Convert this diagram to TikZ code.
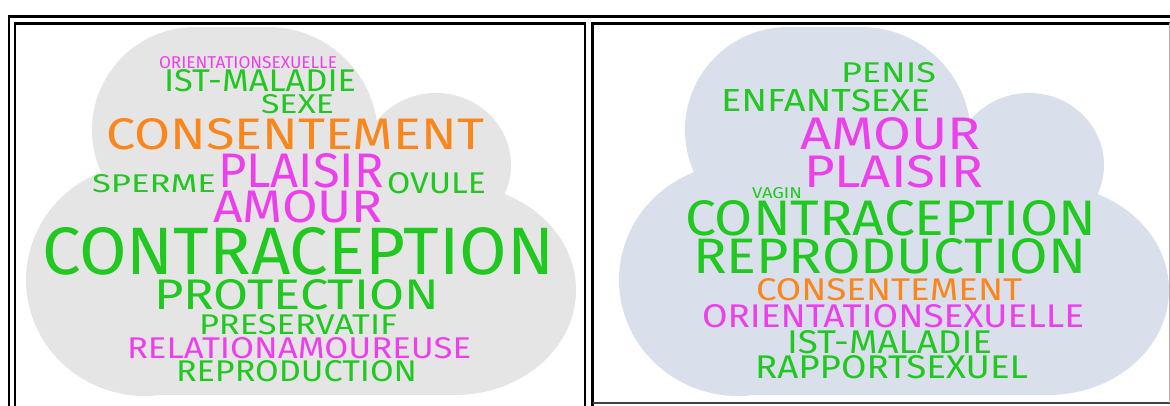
\documentclass[tikz,border=0pt]{standalone}
\usepackage{fontspec}
\setmainfont{Fira Sans}
\usepackage{graphicx}

\definecolor{wgreen}{RGB}{32,200,32}
\definecolor{worange}{RGB}{250,135,30}
\definecolor{wmagenta}{RGB}{236,64,236}
\definecolor{greycloud}{RGB}{229,229,229}
\definecolor{bluecloud}{RGB}{217,223,235}

% one pixel of the reference
\newlength{\pxu}\setlength{\pxu}{0.75pt}
% word squeezed to its width and cap height (in pixels)
\newcommand{\fitword}[3]{\resizebox{#1\pxu}{#2\pxu}{#3}}
% cloud outline, filled with the current colour
\newcommand{\cloudfill}[1]{%
    \fill [#1] (145,280) ellipse [x radius=119, y radius=116];
    \fill [#1] (455,290) ellipse [x radius=121, y radius=105];
    \fill [#1] (145,175) rectangle (455,395);
    \fill [#1] (195,130) circle [radius=103];
    \fill [#1] (268,137) circle [radius=110];
    \fill [#1] (195,27) rectangle (268,200);
    \fill [#1] (436,165) ellipse [x radius=75, y radius=72];
}

\tikzstyle{wd} = [inner sep=0, outer sep=0, anchor=base west]
\tikzstyle{gw} = [wd, text=wgreen]
\tikzstyle{ow} = [wd, text=worange]
\tikzstyle{mw} = [wd, text=wmagenta]
\tikzstyle{frame} = [draw=black, line width=1.9pt]

\begin{document}
\begin{tikzpicture}[x=0.75pt, y=-0.75pt]
    \useasboundingbox (0,0) rectangle (1170,406);

    % Clouds
    \cloudfill{greycloud}
    \begin{scope}[xshift=593\pxu]
        \cloudfill{bluecloud}
    \end{scope}

    % Frames
    \draw [frame] (9,406) -- (9,16.3) -- (1170,16.3);
    \draw [frame] (15,406) -- (15,23.3) -- (585,23.3) -- (585,406);
    \draw [frame] (592.5,406) -- (592.5,23.3) -- (1170,23.3);
    \draw [black!75, line width=1pt] (592.5,403) -- (1170,403);
    \draw [black!30, line width=0.6pt] (1169,23.3) -- (1169,403);

    % Left cloud words
    \node [mw] (lorient) at (159,69) {\fitword{178}{12}{ORIENTATIONSEXUELLE}};
    \node [gw] (list) at (164,92) {\fitword{192}{22}{IST-MALADIE}};
    \node [gw] (lsexe) at (261,114) {\fitword{73}{19}{SEXE}};
    \node [ow] (lconsent) at (106,150) {\fitword{378}{31}{CONSENTEMENT}};
    \node [gw] (lsperme) at (92,192) {\fitword{124}{18}{SPERME}};
    \node [mw] (lplaisir) at (218,188) {\fitword{166}{34}{PLAISIR}};
    \node [gw] (lovule) at (387,193) {\fitword{99}{21}{OVULE}};
    \node [mw] (lamour) at (213,222) {\fitword{170}{32}{AMOUR}};
    \node [gw] (lcontra) at (42,274) {\fitword{512}{47}{CONTRACEPTION}};
    \node [gw] (lprotec) at (154,309) {\fitword{285}{30}{PROTECTION}};
    \node [gw] (lpreserv) at (199,334) {\fitword{198}{20}{PRESERVATIF}};
    \node [mw] (lrelation) at (127,358) {\fitword{344}{21}{RELATIONAMOUREUSE}};
    \node [gw] (lrepro) at (176,381) {\fitword{241}{21}{REPRODUCTION}};

    % Right cloud words
    \node [gw] (rpenis) at (841,83) {\fitword{95}{20}{PENIS}};
    \node [gw] (renfant) at (721,112) {\fitword{130}{22}{ENFANT}};
    \node [gw] (rsexe) at (851,112) {\fitword{79}{22}{SEXE}};
    \node [mw] (ramour) at (800,150) {\fitword{181}{32}{AMOUR}};
    \node [mw] (rplaisir) at (804,187) {\fitword{179}{32}{PLAISIR}};
    \node [gw] (rvagin) at (752,199) {\fitword{50}{11}{VAGIN}};
    \node [gw] (rcontra) at (685,235) {\fitword{411}{35}{CONTRACEPTION}};
    \node [gw] (rrepro) at (693,273) {\fitword{393}{35}{REPRODUCTION}};
    \node [ow] (rconsent) at (756,300) {\fitword{266}{22}{CONSENTEMENT}};
    \node [mw] (rorient) at (702,327) {\fitword{382}{23}{ORIENTATIONSEXUELLE}};
    \node [gw] (rist) at (787,353) {\fitword{205}{23}{IST-MALADIE}};
    \node [gw] (rrapport) at (755,378) {\fitword{273}{23}{RAPPORTSEXUEL}};

\end{tikzpicture}
\end{document}
